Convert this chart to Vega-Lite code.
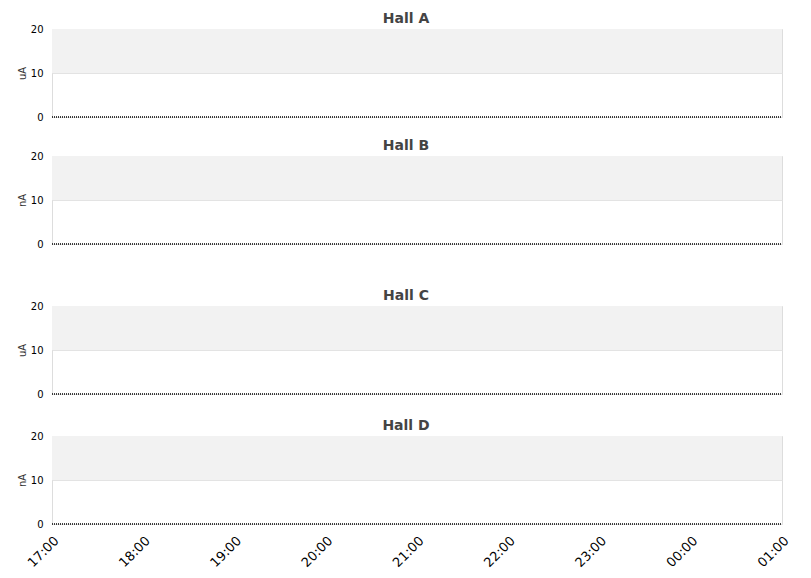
{
  "$schema": "https://vega.github.io/schema/vega-lite/v6.json",
  "padding": {"left": 16, "top": 11, "right": 5, "bottom": 0},
  "spacing": 38,
  "config": {
    "view": {"stroke": "#dddddd"},
    "title": {"font": "DejaVu Sans", "fontSize": 14, "fontWeight": "bold", "color": "#444444", "offset": -2, "dx": -11},
    "axis": {"labelFont": "DejaVu Sans", "titleFont": "DejaVu Sans", "labelColor": "#000000", "titleColor": "#333333"},
    "axisY": {"ticks": false, "domain": false, "gridColor": "#e3e3e3", "labelFontSize": 10, "titleFontSize": 10, "titleFontWeight": "normal", "labelPadding": 9, "titlePadding": 3}
  },
  "vconcat": [
    {
      "spacing": 15,
      "vconcat": [
        {
          "title": "Hall A",
          "width": 730,
          "height": 88,
          "layer": [
            {
              "data": {"values": [{"t0": "2024-01-01T17:00:00", "t1": "2024-01-02T01:00:00", "lo": 10, "hi": 20}]},
              "mark": {"type": "rect", "color": "#f2f2f2"},
              "encoding": {
                "x": {"field": "t0", "type": "temporal", "axis": null},
                "x2": {"field": "t1"},
                "y": {"field": "lo", "type": "quantitative", "scale": {"domain": [0, 20]}, "axis": {"title": "uA", "values": [0, 10, 20]}},
                "y2": {"field": "hi"}
              }
            },
            {
              "data": {"values": [
                {"time": "2024-01-01T17:00:00", "value": 0},
                {"time": "2024-01-01T21:00:00", "value": 0},
                {"time": "2024-01-02T01:00:00", "value": 0}
              ]},
              "mark": {"type": "line", "color": "#000000", "strokeWidth": 1.5, "strokeDash": [1, 1]},
              "encoding": {
                "x": {"field": "time", "type": "temporal"},
                "y": {"field": "value", "type": "quantitative"}
              }
            }
          ]
        },
        {
          "title": "Hall B",
          "width": 730,
          "height": 88,
          "layer": [
            {
              "data": {"values": [{"t0": "2024-01-01T17:00:00", "t1": "2024-01-02T01:00:00", "lo": 10, "hi": 20}]},
              "mark": {"type": "rect", "color": "#f2f2f2"},
              "encoding": {
                "x": {"field": "t0", "type": "temporal", "axis": null},
                "x2": {"field": "t1"},
                "y": {"field": "lo", "type": "quantitative", "scale": {"domain": [0, 20]}, "axis": {"title": "nA", "values": [0, 10, 20]}},
                "y2": {"field": "hi"}
              }
            },
            {
              "data": {"values": [
                {"time": "2024-01-01T17:00:00", "value": 0},
                {"time": "2024-01-01T21:00:00", "value": 0},
                {"time": "2024-01-02T01:00:00", "value": 0}
              ]},
              "mark": {"type": "line", "color": "#000000", "strokeWidth": 1.5, "strokeDash": [1, 1]},
              "encoding": {
                "x": {"field": "time", "type": "temporal"},
                "y": {"field": "value", "type": "quantitative"}
              }
            }
          ]
        }
      ]
    },
    {
      "spacing": 18,
      "vconcat": [
        {
          "title": "Hall C",
          "width": 730,
          "height": 88,
          "layer": [
            {
              "data": {"values": [{"t0": "2024-01-01T17:00:00", "t1": "2024-01-02T01:00:00", "lo": 10, "hi": 20}]},
              "mark": {"type": "rect", "color": "#f2f2f2"},
              "encoding": {
                "x": {"field": "t0", "type": "temporal", "axis": null},
                "x2": {"field": "t1"},
                "y": {"field": "lo", "type": "quantitative", "scale": {"domain": [0, 20]}, "axis": {"title": "uA", "values": [0, 10, 20]}},
                "y2": {"field": "hi"}
              }
            },
            {
              "data": {"values": [
                {"time": "2024-01-01T17:00:00", "value": 0},
                {"time": "2024-01-01T21:00:00", "value": 0},
                {"time": "2024-01-02T01:00:00", "value": 0}
              ]},
              "mark": {"type": "line", "color": "#000000", "strokeWidth": 1.5, "strokeDash": [1, 1]},
              "encoding": {
                "x": {"field": "time", "type": "temporal"},
                "y": {"field": "value", "type": "quantitative"}
              }
            }
          ]
        },
        {
          "title": "Hall D",
          "width": 730,
          "height": 88,
          "layer": [
            {
              "data": {"values": [{"t0": "2024-01-01T17:00:00", "t1": "2024-01-02T01:00:00", "lo": 10, "hi": 20}]},
              "mark": {"type": "rect", "color": "#f2f2f2"},
              "encoding": {
                "x": {"field": "t0", "type": "temporal", "axis": {"title": null, "format": "%H:%M", "values": ["2024-01-01T17:00:00", "2024-01-01T18:00:00", "2024-01-01T19:00:00", "2024-01-01T20:00:00", "2024-01-01T21:00:00", "2024-01-01T22:00:00", "2024-01-01T23:00:00", "2024-01-02T00:00:00", "2024-01-02T01:00:00"], "labelAngle": -45, "labelAlign": "right", "labelBaseline": "top", "labelFontSize": 13, "ticks": false, "domain": false, "grid": false, "labelPadding": 10, "labelFlush": false, "labelOverlap": false}},
                "x2": {"field": "t1"},
                "y": {"field": "lo", "type": "quantitative", "scale": {"domain": [0, 20]}, "axis": {"title": "nA", "values": [0, 10, 20]}},
                "y2": {"field": "hi"}
              }
            },
            {
              "data": {"values": [
                {"time": "2024-01-01T17:00:00", "value": 0},
                {"time": "2024-01-01T21:00:00", "value": 0},
                {"time": "2024-01-02T01:00:00", "value": 0}
              ]},
              "mark": {"type": "line", "color": "#000000", "strokeWidth": 1.5, "strokeDash": [1, 1]},
              "encoding": {
                "x": {"field": "time", "type": "temporal"},
                "y": {"field": "value", "type": "quantitative"}
              }
            }
          ]
        }
      ]
    }
  ]
}
